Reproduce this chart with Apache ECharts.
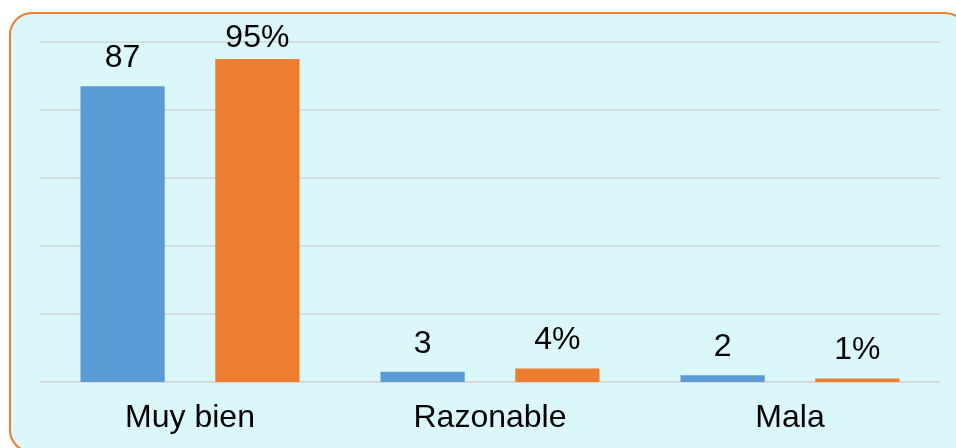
<!DOCTYPE html>
<html><head><meta charset="utf-8">
<script src="https://cdn.jsdelivr.net/npm/echarts@6/dist/echarts.min.js"></script>
<style>html,body{margin:0;padding:0;background:#fff}#c{width:956px;height:448px}</style>
</head><body><div id="c"></div>
<script>
const categories = ['Muy bien', 'Razonable', 'Mala'];
const countValues = [87, 3, 2];
const percentValues = [95, 4, 1];
const yTicks = [0, 20, 40, 60, 80, 100];

const chart = echarts.init(document.getElementById('c'));
const font = '"Liberation Sans", Arial, sans-serif';
chart.setOption({
  animation: false,
  graphic: [{
    type: 'rect', z: -10, silent: true,
    shape: { x: 10, y: 13, width: 957, height: 439, r: 22 },
    style: { fill: '#DAF7FA', stroke: '#ED7D31', lineWidth: 2 }
  }],
  grid: { left: 40, right: 16, top: 42, bottom: 66 },
  xAxis: {
    type: 'category', data: categories,
    axisLine: { lineStyle: { color: '#D6D6D6', width: 1.5 } },
    axisTick: { show: false },
    axisLabel: { color: '#000', fontSize: 32, fontFamily: font, margin: 20 }
  },
  yAxis: {
    type: 'value', min: yTicks[0], max: yTicks[yTicks.length - 1], interval: yTicks[1] - yTicks[0],
    axisLabel: { show: false }, axisLine: { show: false }, axisTick: { show: false },
    splitLine: { lineStyle: { color: '#D6D6D6', width: 1.5 } }
  },
  series: [{
    type: 'bar', data: countValues, barGap: '60%', barCategoryGap: '27%',
    itemStyle: { color: '#5B9BD5' },
    label: { show: true, position: 'top', distance: 12, color: '#000', fontSize: 32, fontFamily: font }
  }, {
    type: 'bar',
    data: percentValues.map((v, i) => i === 0 ? { value: v, label: { distance: 5 } } : v),
    itemStyle: { color: '#ED7D31' },
    label: { show: true, position: 'top', distance: 12, color: '#000', fontSize: 32, fontFamily: font, formatter: '{c}%' }
  }]
});
</script></body></html>
